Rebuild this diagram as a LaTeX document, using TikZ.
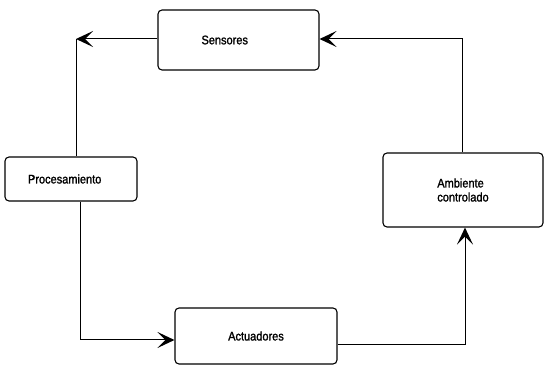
\documentclass[tikz,border=0pt]{standalone}
\usepackage{fontspec}
\setmainfont{Liberation Sans}[FakeStretch=0.88,FakeBold=1.5]
\usepackage{tikz}
\usetikzlibrary{arrows.meta,calc,positioning}

\begin{document}
\begin{tikzpicture}[x=1pt, y=-1pt,
    caja/.style={draw, line width=1.1pt, rounded corners=4pt, font=\fontsize{12.5}{14}\selectfont},
    flujo/.style={line width=1pt},
    flecha/.style={flujo, -{Stealth[length=17pt,width=16pt,inset=8pt,line width=1.5pt]}}]
  \useasboundingbox (0,0) rectangle (544,366);

  % bloques
  \node[caja, minimum width=161pt, minimum height=60pt, text width=74pt, align=left] (sens) at (238.5,40) {Sensores};
  \node[caja, minimum width=132pt, minimum height=44pt, text width=86pt, align=left] (proc) at (71,179) {Procesamiento};
  \node[caja, minimum width=162pt, minimum height=56pt] (act) at (256,336) {Actuadores};
  \node[caja, minimum width=160pt, minimum height=74pt, align=left] (amb) at (463,190) {Ambiente\\controlado};

  % esquinas del lazo
  \coordinate (tl) at (76,39);
  \coordinate (bl) at (80,340);
  \coordinate (br) at (465,345);
  \coordinate (tr) at (462,39);

  \draw[flecha] (sens.west |- tl) -- (tl);
  \draw[flujo] (tl) -- (tl |- proc.north);
  \draw[flecha] (bl |- proc.south) -- (bl) -- (act.west |- bl);
  \draw[flecha] (act.east |- br) -- (br) -- (br |- amb.south);
  \draw[flecha] (tr |- amb.north) -- (tr) -- (sens.east |- tr);
\end{tikzpicture}
\end{document}
